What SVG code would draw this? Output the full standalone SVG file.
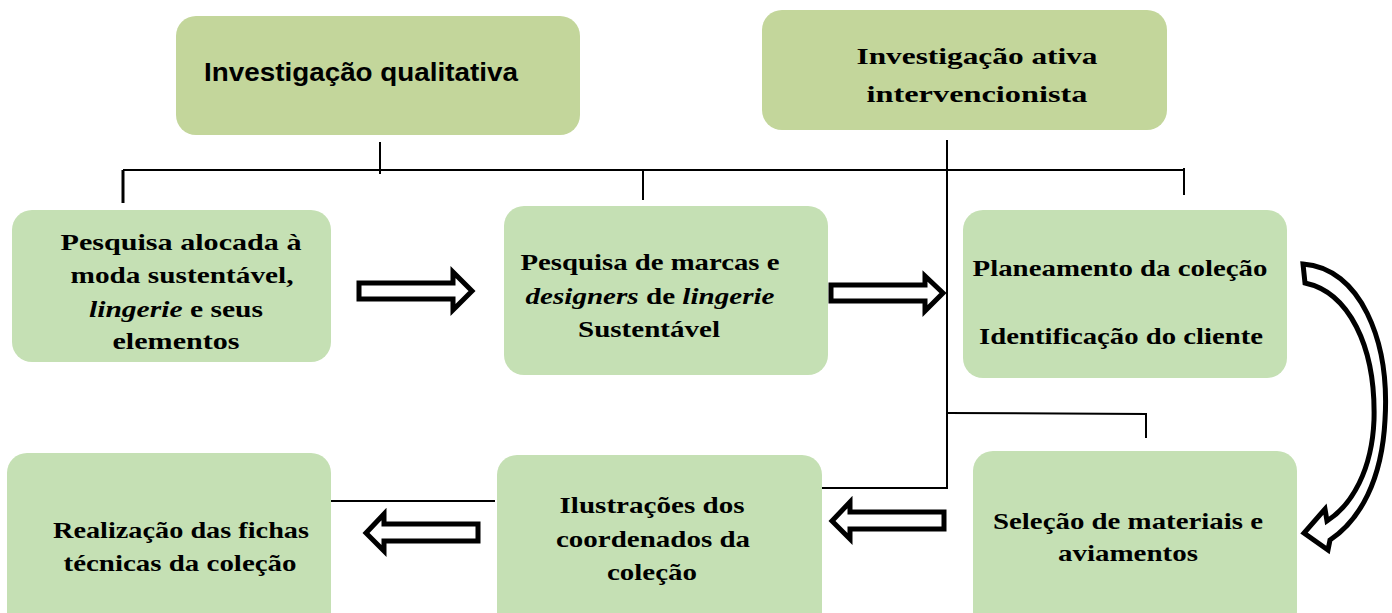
<svg xmlns="http://www.w3.org/2000/svg" width="1392" height="613" viewBox="0 0 1392 613">
<style>
.top{fill:#c3d69b}
.box{fill:#c5e0b4}
.t{font-family:"Liberation Serif","Times New Roman",serif;font-weight:bold;font-size:24px;fill:#000;text-anchor:middle}
.ts{font-family:"Liberation Sans",Arial,sans-serif;font-weight:bold;font-size:26px;fill:#000}
.ln{stroke:#000;stroke-width:2;fill:none}
.tk{stroke:#000;stroke-width:3;fill:none}
.ar{fill:#fff;stroke:#000;stroke-width:5;stroke-linejoin:miter}
</style>
<rect width="1392" height="613" fill="#fff"/>
<g id="connectors">
<line class="ln" x1="380" y1="142" x2="380" y2="174"/>
<line class="ln" x1="123" y1="170" x2="1185" y2="170"/>
<line class="tk" x1="123" y1="170" x2="123" y2="203"/>
<line class="ln" x1="643" y1="170" x2="643" y2="200"/>
<line class="ln" x1="1184" y1="168" x2="1184" y2="195"/>
<polyline class="ln" points="947,140 947,488 822,488"/>
<polyline class="ln" points="947,413 1146,414 1146,438"/>
<line class="ln" x1="331" y1="501" x2="495" y2="501"/>
<polygon class="ar" points="359,283 453,283 453,272 472,291 453,310 453,299 359,299"/>
<polygon class="ar" points="831,285 925,285 925,276 943,293 925,311 925,301 831,301"/>
<polygon class="ar" points="944,512 850,512 850,502 832,521 850,539 850,529 944,529"/>
<polygon class="ar" points="478,524 384,524 384,514 366,533 384,551 384,541 478,541"/>
<path class="ar" stroke-width="4" stroke-linejoin="round" d="M1303,264 C1360,268 1390,340 1385,420 C1382,480 1360,520 1330,540 L1328,550 L1304,533 L1325,509 L1327,521 C1352,505 1372,470 1374,420 C1376,345 1348,292 1305,283 Z"/>
</g>
<g id="n-qualitativa">
<rect class="top" x="176" y="16" width="404" height="119" rx="20"/>
<text class="ts" x="204" y="81" textLength="314" lengthAdjust="spacingAndGlyphs">Investigação qualitativa</text>
</g>
<g id="n-ativa">
<rect class="top" x="762" y="10" width="405" height="120" rx="20"/>
<text class="t" font-size="27" x="977" y="64" textLength="241" lengthAdjust="spacingAndGlyphs">Investigação ativa</text>
<text class="t" font-size="27" x="977" y="102" textLength="221" lengthAdjust="spacingAndGlyphs">intervencionista</text>
</g>
<g id="n-pesquisa">
<rect class="box" x="12" y="210" width="319" height="152" rx="20"/>
<text class="t" x="181" y="250" textLength="241" lengthAdjust="spacingAndGlyphs">Pesquisa alocada à</text>
<text class="t" x="182" y="283" textLength="223" lengthAdjust="spacingAndGlyphs">moda sustentável,</text>
<text class="t" x="176" y="317" textLength="174" lengthAdjust="spacingAndGlyphs"><tspan font-style="italic">lingerie</tspan> e seus</text>
<text class="t" x="176" y="349" textLength="127" lengthAdjust="spacingAndGlyphs">elementos</text>
</g>
<g id="n-marcas">
<rect class="box" x="504" y="206" width="324" height="169" rx="20"/>
<text class="t" x="650" y="270" textLength="259" lengthAdjust="spacingAndGlyphs">Pesquisa de marcas e</text>
<text class="t" x="650" y="304" textLength="249" lengthAdjust="spacingAndGlyphs"><tspan font-style="italic">designers</tspan> de <tspan font-style="italic">lingerie</tspan></text>
<text class="t" x="649" y="337" textLength="142" lengthAdjust="spacingAndGlyphs">Sustentável</text>
</g>
<g id="n-planeamento">
<rect class="box" x="963" y="210" width="324" height="168" rx="20"/>
<text class="t" x="1120" y="276" textLength="295" lengthAdjust="spacingAndGlyphs">Planeamento da coleção</text>
<text class="t" x="1121" y="344" textLength="284" lengthAdjust="spacingAndGlyphs">Identificação do cliente</text>
</g>
<g id="n-selecao">
<rect class="box" x="973" y="451" width="324" height="180" rx="20"/>
<text class="t" x="1128" y="529" textLength="270" lengthAdjust="spacingAndGlyphs">Seleção de materiais e</text>
<text class="t" x="1128" y="561" textLength="140" lengthAdjust="spacingAndGlyphs">aviamentos</text>
</g>
<g id="n-ilustracoes">
<rect class="box" x="497" y="455" width="325" height="180" rx="20"/>
<text class="t" x="652" y="513" textLength="185" lengthAdjust="spacingAndGlyphs">Ilustrações dos</text>
<text class="t" x="653" y="547" textLength="194" lengthAdjust="spacingAndGlyphs">coordenados da</text>
<text class="t" x="652" y="580" textLength="90" lengthAdjust="spacingAndGlyphs">coleção</text>
</g>
<g id="n-fichas">
<rect class="box" x="7" y="453" width="324" height="180" rx="20"/>
<text class="t" x="181" y="538" textLength="256" lengthAdjust="spacingAndGlyphs">Realização das fichas</text>
<text class="t" x="180" y="571" textLength="233" lengthAdjust="spacingAndGlyphs">técnicas da coleção</text>
</g>
</svg>
